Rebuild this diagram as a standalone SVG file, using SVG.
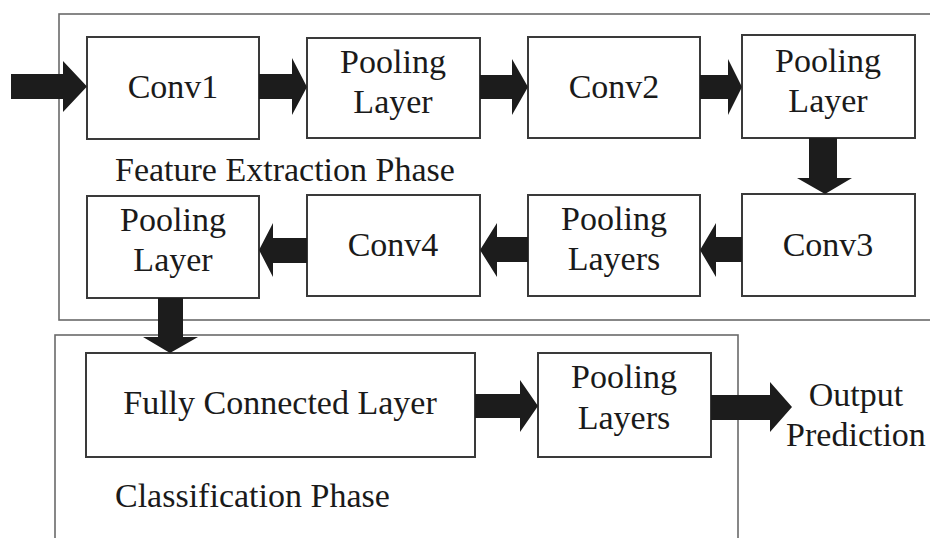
<svg xmlns="http://www.w3.org/2000/svg" width="930" height="538" viewBox="0 0 930 538">
<style>
.frame{fill:none;stroke:#6a6a6a;stroke-width:1.6}
.box{fill:#fff;stroke:#3a3a3a;stroke-width:2}
text{font-family:'Times New Roman','Liberation Serif',Tinos,'Noto Serif','DejaVu Serif',FreeSerif,serif;font-size:34px;fill:#1a1a1a}
.m{text-anchor:middle}
.arr{fill:#1c1c1c}
</style>
<rect width="930" height="538" fill="#fff"/>
<rect class="frame" x="59" y="14" width="900" height="306"/>
<rect class="frame" x="55" y="335" width="683" height="240"/>
<g id="labels">
<text x="115" y="181">Feature Extraction Phase</text>
<text x="115" y="507">Classification Phase</text>
</g>
<g id="conv1"><rect class="box" x="87" y="37" width="172" height="102"/><text class="m" x="173" y="98">Conv1</text></g>
<g id="pool1"><rect class="box" x="307" y="38" width="173" height="100"/><text class="m" x="393" y="73">Pooling</text><text class="m" x="393" y="113">Layer</text></g>
<g id="conv2"><rect class="box" x="528" y="37" width="172" height="101"/><text class="m" x="614" y="98">Conv2</text></g>
<g id="pool2"><rect class="box" x="742" y="35" width="173" height="103"/><text class="m" x="828" y="72">Pooling</text><text class="m" x="828" y="112">Layer</text></g>
<g id="conv3"><rect class="box" x="742" y="194" width="173" height="102"/><text class="m" x="828" y="256">Conv3</text></g>
<g id="pool3"><rect class="box" x="528" y="195" width="172" height="101"/><text class="m" x="614" y="230">Pooling</text><text class="m" x="614" y="270">Layers</text></g>
<g id="conv4"><rect class="box" x="307" y="195" width="173" height="101"/><text class="m" x="393" y="256">Conv4</text></g>
<g id="pool4"><rect class="box" x="87" y="196" width="172" height="102"/><text class="m" x="173" y="231">Pooling</text><text class="m" x="173" y="271">Layer</text></g>
<g id="fc"><rect class="box" x="86" y="353" width="389" height="104"/><text class="m" x="280" y="414">Fully Connected Layer</text></g>
<g id="pool5"><rect class="box" x="538" y="353" width="173" height="104"/><text class="m" x="624" y="388">Pooling</text><text class="m" x="624" y="429">Layers</text></g>
<g id="output"><text class="m" x="856" y="406">Output</text><text class="m" x="856" y="446">Prediction</text></g>
<g id="connectors" class="arr">
<polygon points="11,74 63,74 63,61 87,86.5 63,112 63,99 11,99"/>
<polygon points="259,74 292,74 292,58 307,87 292,115 292,99 259,99"/>
<polygon points="480,75 512,75 512,59 528,87 512,115 512,99 480,99"/>
<polygon points="700,75 728,75 728,59 742,87 728,115 728,99 700,99"/>
<polygon points="809,138 837,138 837,178 852,178 825,194 797,178 809,178"/>
<polygon points="742,237 716,237 716,223 700,250 716,277 716,262 742,262"/>
<polygon points="528,237 497,237 497,223 480,250 497,277 497,262 528,262"/>
<polygon points="307,238 273,238 273,223 259,250 273,277 273,263 307,263"/>
<polygon points="158,298 183,298 183,337 198,337 170,353 143,337 158,337"/>
<polygon points="475,394 520,394 520,380 538,406 520,432 520,418 475,418"/>
<polygon points="711,395 770,395 770,382 792,407 770,432 770,420 711,420"/>
</g>
</svg>
